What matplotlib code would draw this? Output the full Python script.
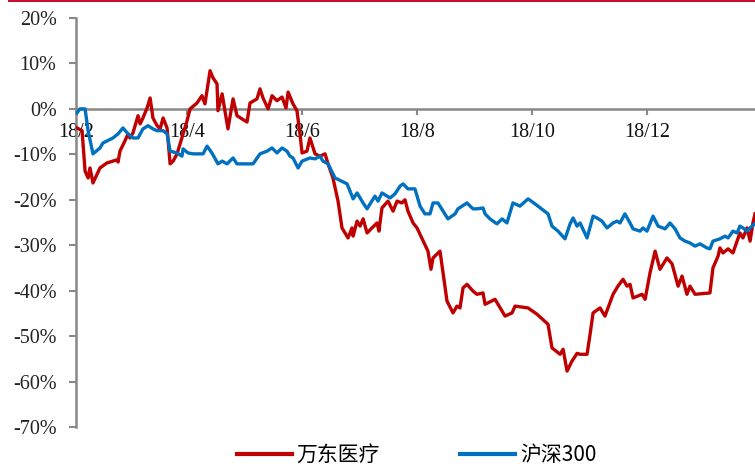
import numpy as np
import pandas as pd
import matplotlib
matplotlib.use('Agg')
import matplotlib.pyplot as plt
from matplotlib.patches import Rectangle

# 起始日期, 之后用天数偏移表示
start = pd.Timestamp('2018-02-01')

# 万东医疗 累计涨跌幅(%)
wd_days = [0.5, 3.2, 4.8, 6.4, 7.4, 9.0, 12.7, 16.4, 21.8, 22.3, 23.3, 26.0, 27.6, 28.6, 30.2,
           32.9, 34.0, 35.5, 37.7, 39.3, 40.8, 43.0, 44.6, 46.2, 48.3, 49.9, 51.5, 53.6, 55.2,
           56.8, 58.9, 60.5, 64.2, 66.8, 68.4, 71.1, 72.7, 74.8, 75.3, 77.5, 79.0, 80.6, 83.3,
           85.4, 90.7, 92.3, 96.0, 97.6, 99.2, 101.9, 104.0, 106.6, 109.3, 111.4, 112.5, 115.1,
           117.2, 118.8, 119.9, 122.5, 124.1, 126.8, 129.4, 132.1, 133.7, 136.3, 139.0, 141.1,
           144.3, 146.4, 147.0, 149.1, 150.7, 152.3, 154.4, 157.0, 159.7, 160.7, 162.3, 165.5,
           168.2, 170.3, 172.9, 174.5, 176.1, 178.8, 180.9, 186.7, 188.3, 189.4, 193.1, 196.8,
           200.0, 202.1, 203.7, 205.3, 207.4, 210.6, 212.7, 215.9, 217.0, 222.3, 227.6, 231.3,
           232.9, 239.8, 244.6, 250.4, 252.5, 256.8, 258.4, 260.5, 263.1, 265.8, 267.4, 271.1,
           272.7, 274.3, 278.0, 280.6, 284.9, 287.5, 290.2, 292.3, 293.9, 295.5, 300.3, 301.9,
           304.5, 307.2, 309.8, 313.5, 316.2, 319.4, 321.5, 324.1, 325.7, 328.4, 336.3, 337.9,
           340.6, 341.6, 343.2, 345.9, 348.5, 350.7, 352.2, 353.8, 356.0, 357.6, 359.1, 360.2]
wd_vals = [-4.2, -4.8, -13.7, -15.2, -13.0, -16.3, -13.0, -11.9, -11.2, -11.7, -9.3, -7.0, -5.5,
           -6.4, -5.3, -1.5, -3.3, -2.0, 0.2, 2.4, -2.0, -3.7, -4.4, -2.0, -4.2, -12.1, -11.5,
           -9.9, -7.7, -5.5, -2.6, 0.0, 1.3, 2.9, 1.1, 8.4, 6.8, 5.5, -0.4, 3.3, -0.4, -4.4, 2.2,
           -1.5, -2.9, 1.3, 2.2, 4.4, 2.4, 0.0, 2.9, 1.8, 2.6, 0.2, 3.7, 1.1, -0.4, -5.5, -9.7,
           -9.3, -6.4, -9.9, -10.4, -9.9, -12.1, -15.2, -20.3, -26.2, -28.4, -26.2, -28.0, -24.7,
           -25.8, -24.2, -27.3, -26.2, -25.1, -26.9, -21.8, -20.3, -22.5, -20.3, -20.7, -20.0,
           -22.5, -25.1, -26.2, -31.3, -35.3, -32.8, -31.3, -42.3, -44.9, -43.4, -43.8, -39.4,
           -38.6, -40.1, -40.8, -40.5, -43.0, -41.9, -45.6, -44.9, -43.4, -43.8, -45.2, -47.4,
           -52.6, -54.0, -52.9, -57.7, -55.5, -53.8, -54.0, -54.0, -49.6, -44.9, -43.8, -45.6,
           -40.8, -39.0, -37.5, -39.0, -38.6, -41.6, -40.8, -41.9, -36.1, -31.3, -35.3, -32.8,
           -34.1, -39.0, -36.8, -40.8, -39.0, -40.8, -40.5, -35.0, -32.4, -30.6, -31.7, -30.8,
           -31.7, -29.1, -27.3, -28.4, -26.2, -29.1, -25.1, -23.1]

# 沪深300 累计涨跌幅(%)
hs_days = [0.5, 2.1, 4.8, 6.4, 9.0, 12.7, 14.3, 19.6, 22.3, 24.9, 27.6, 30.2, 32.9, 35.5, 38.2,
           40.8, 43.0, 46.2, 48.3, 49.9, 53.6, 56.2, 56.8, 59.4, 62.1, 67.4, 69.5, 72.1, 75.3,
           77.5, 80.1, 83.3, 85.4, 93.9, 97.6, 101.3, 104.0, 106.6, 109.3, 111.9, 113.5, 115.1,
           117.8, 119.9, 124.1, 126.8, 129.4, 131.0, 133.7, 137.4, 143.8, 147.0, 149.1, 152.3,
           154.4, 156.0, 158.6, 160.2, 162.3, 166.6, 169.2, 171.9, 173.5, 176.1, 179.8, 182.5,
           185.1, 187.8, 189.4, 192.0, 194.7, 197.3, 201.1, 202.6, 207.4, 210.6, 212.7, 215.9,
           217.0, 219.6, 223.3, 226.0, 228.6, 231.8, 235.5, 239.8, 243.5, 250.4, 252.5, 255.7,
           259.4, 262.1, 263.7, 265.8, 267.4, 271.1, 274.3, 276.4, 279.0, 281.7, 284.9, 287.0,
           288.6, 291.2, 293.9, 295.5, 299.2, 300.8, 302.9, 306.1, 308.8, 312.5, 315.1, 317.8,
           320.4, 323.1, 325.7, 328.4, 331.0, 334.7, 336.3, 337.9, 341.6, 344.3, 345.9, 348.5,
           350.7, 352.2, 353.8, 356.0, 357.6, 360.2]
hs_vals = [-0.9, 0.0, 0.0, -4.8, -9.9, -8.6, -7.5, -6.4, -5.5, -4.2, -5.5, -6.4, -6.4, -4.4, -3.7,
           -4.4, -4.8, -4.8, -5.5, -9.3, -9.7, -10.4, -8.8, -9.7, -9.9, -9.9, -8.2, -9.7, -12.1,
           -11.5, -12.1, -10.8, -12.1, -12.1, -9.9, -9.3, -8.6, -9.7, -8.6, -9.3, -10.4, -10.8,
           -13.0, -11.5, -10.8, -11.0, -10.4, -11.5, -12.1, -15.2, -16.5, -19.8, -18.5, -20.7,
           -22.0, -20.9, -19.2, -20.3, -18.5, -19.6, -18.7, -17.0, -16.5, -17.6, -17.6, -21.4,
           -23.1, -23.1, -20.7, -20.7, -22.5, -24.2, -23.1, -22.0, -20.7, -22.0, -22.0, -21.8,
           -23.1, -24.2, -25.3, -24.2, -25.1, -20.7, -21.4, -19.8, -20.9, -23.1, -25.8, -26.9,
           -28.6, -25.3, -24.0, -25.8, -25.1, -28.4, -23.6, -24.0, -24.7, -26.2, -25.1, -24.7,
           -25.1, -23.1, -25.1, -26.4, -26.9, -26.2, -26.9, -23.6, -25.8, -26.4, -25.1, -26.4,
           -28.4, -29.1, -29.5, -30.2, -29.7, -30.6, -30.8, -29.1, -28.6, -28.0, -28.4, -26.9,
           -27.3, -25.8, -26.2, -26.9, -26.2, -25.3]

tick_months = ['2018-02-01', '2018-04-01', '2018-06-01', '2018-08-01', '2018-10-01', '2018-12-01']
tick_labels = ['18/2', '18/4', '18/6', '18/8', '18/10', '18/12']
y_ticks = list(range(-70, 21, 10))

wd_x = start + pd.to_timedelta(wd_days, unit='D')
hs_x = start + pd.to_timedelta(hs_days, unit='D')

plt.rcParams['font.family'] = ['Liberation Serif', 'Noto Sans CJK SC', 'DejaVu Sans']

fig = plt.figure(figsize=(7.55, 4.66), dpi=100)
ax = fig.add_axes([0.1007, 0.0837, 0.8993, 0.8777])

red = '#C00000'
blue = '#0070C0'
ax.plot(wd_x, wd_vals, color=red, lw=2.4, label='万东医疗', zorder=3)
ax.plot(hs_x, hs_vals, color=blue, lw=2.4, label='沪深300', zorder=3)

ax.set_ylim(-70, 20)
ax.set_xlim(start, start + pd.Timedelta(days=360.2))
ax.set_yticks(y_ticks)
ax.set_yticklabels([f'{v}%' for v in y_ticks])
ax.set_xticks(pd.to_datetime(tick_months))
ax.set_xticklabels(tick_labels)

gray = '#888888'
for s in ['top', 'right']:
    ax.spines[s].set_visible(False)
ax.spines['left'].set_color(gray)
ax.spines['left'].set_linewidth(1.8)
ax.spines['bottom'].set_position(('data', 0))
ax.spines['bottom'].set_color(gray)
ax.spines['bottom'].set_linewidth(1.8)
ax.spines['bottom'].set_zorder(2)
ax.tick_params(axis='y', direction='out', length=5, width=1.5, color=gray, pad=9,
               labelsize=14.5, labelcolor='#222222')
ax.tick_params(axis='x', direction='out', length=4, width=1.5, color=gray, pad=6,
               labelsize=14.5, labelcolor='#111111')

leg = fig.legend(loc='center', bbox_to_anchor=(0.552, 0.024), ncol=2, frameon=False,
                 prop={'family': ['Noto Sans CJK SC', 'DejaVu Sans'], 'size': 15},
                 handlelength=2.6, handletextpad=0.25, columnspacing=3.85)
for h in leg.get_lines():
    h.set_linewidth(3)

# 顶部红色装饰条
fig.add_artist(Rectangle((0.011, 0.996), 0.989, 0.004, transform=fig.transFigure,
                         color='#C8102E', lw=0))

fig.savefig('out.png', dpi=100)
